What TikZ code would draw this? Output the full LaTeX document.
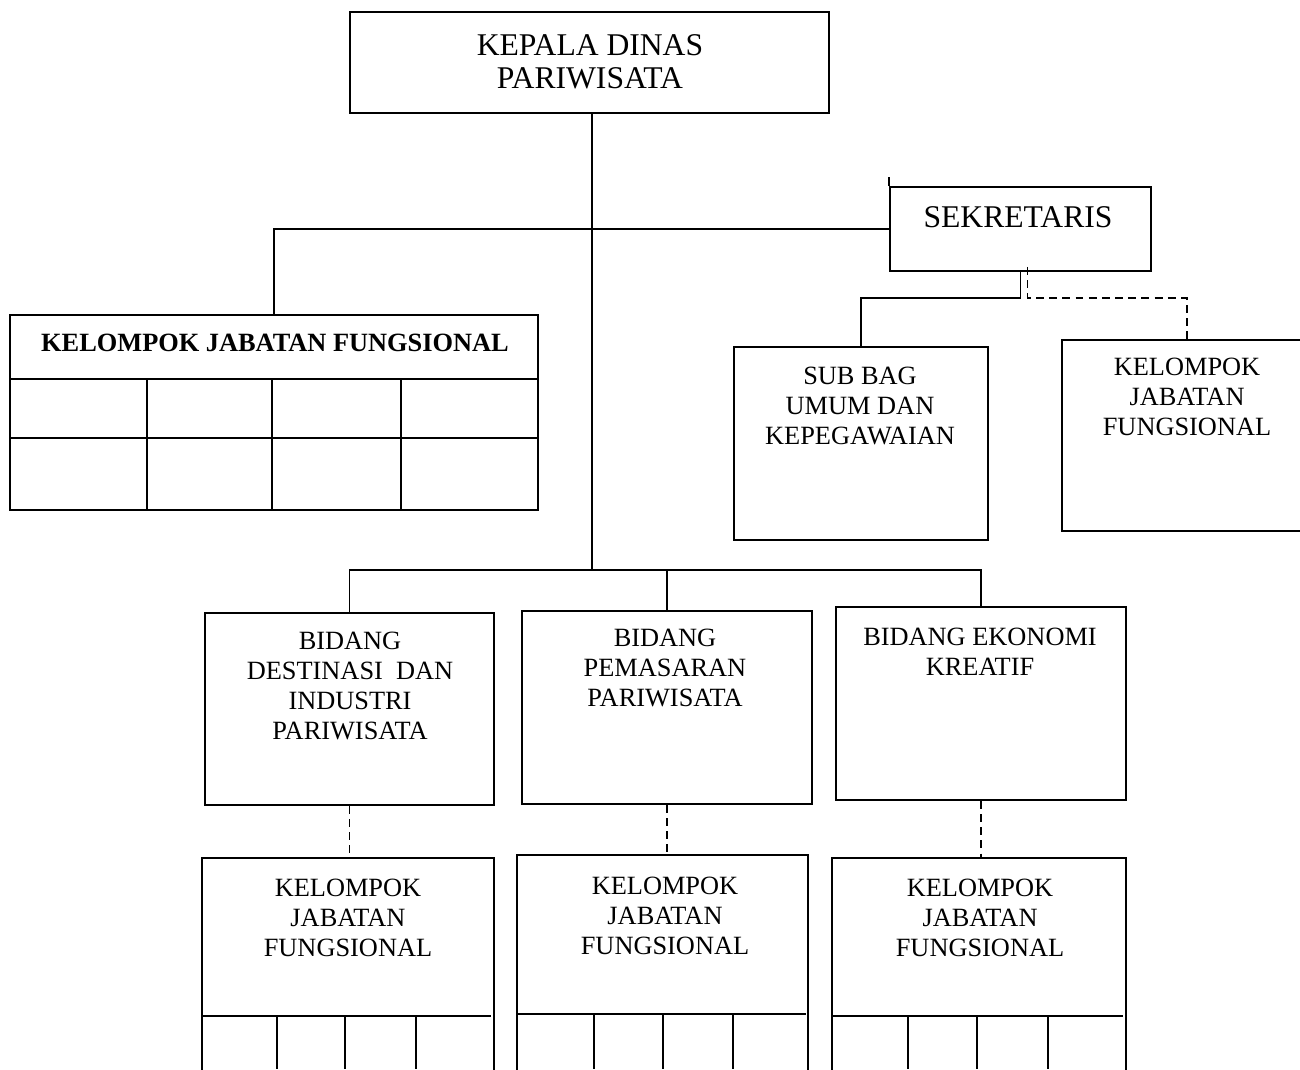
\documentclass[tikz,border=0pt]{standalone}
\usepackage{fontspec}
\setmainfont{Liberation Serif}
\usetikzlibrary{positioning,calc,fit}
\tikzset{>=latex,
  box/.style={draw,line width=1pt,inner sep=0pt},
  txt/.style={align=center,font=\fontsize{15}{17}\selectfont},
  bigtxt/.style={align=center,font=\fontsize{18}{18.7}\selectfont},
  conn/.style={line width=1pt},
  dconn/.style={line width=1pt,dash pattern=on 4.5pt off 3pt}}

\begin{document}
\begin{tikzpicture}[x=0.02cm,y=-0.02cm]
\useasboundingbox (0,0) rectangle (1300,1069);
\clip (0,0) rectangle (1300,1069);
% boxes
\node [box,fit={(350,12) (829,113)}] (kepala) {};
\node [box,fit={(890,187) (1151,271)}] (sek) {};
\node [box,fit={(10,315) (538,510)}] (kjf) {};
\node [box,fit={(734,347) (988,540)}] (subbag) {};
\node [box,fit={(1062,340) (1312,531)}] (kjfs) {};
\node [box,fit={(205,613) (494,805)}] (bid1) {};
\node [box,fit={(522,611) (812,804)}] (bid2) {};
\node [box,fit={(836,607) (1126,800)}] (bid3) {};
\node [box,fit={(202,858) (494,1100)}] (kjf1) {};
\node [box,fit={(517,855) (808,1100)}] (kjf2) {};
\node [box,fit={(832,858) (1126,1100)}] (kjf3) {};
% texts
\node [bigtxt] (tkepala) at (590,62) {KEPALA DINAS\\PARIWISATA};
\node [bigtxt] (tsek) at (1018,217) {SEKRETARIS};
\node [txt,font=\bfseries\fontsize{15}{17}\selectfont] (tkjf) at (275,343) {KELOMPOK JABATAN FUNGSIONAL};
\node [txt] (tsubbag) at (860,406) {SUB BAG\\UMUM DAN\\KEPEGAWAIAN};
\node [txt] (tkjfs) at (1187,397) {KELOMPOK\\JABATAN\\FUNGSIONAL};
\node [txt] (tbid1) at (350,686) {BIDANG\\DESTINASI\ \ DAN\\INDUSTRI\\PARIWISATA};
\node [txt] (tbid2) at (665,668) {BIDANG\\PEMASARAN\\PARIWISATA};
\node [txt] (tbid3) at (980,652) {BIDANG EKONOMI\\KREATIF};
\node [txt] (tkjf1) at (348,918) {KELOMPOK\\JABATAN\\FUNGSIONAL};
\node [txt] (tkjf2) at (665,916) {KELOMPOK\\JABATAN\\FUNGSIONAL};
\node [txt] (tkjf3) at (980,918) {KELOMPOK\\JABATAN\\FUNGSIONAL};
% table cells
\foreach \y in {379,438} \draw [conn] (10,\y) -- (538,\y);
\foreach \x in {147,272,401} \draw [conn] (\x,379) -- (\x,510);
\foreach \l/\r/\y/\xa/\xb/\xc in {202/491/1016/277/345/416,517/806/1014/594/663/733,832/1123/1016/908/977/1048}
{
  \draw [conn] (\l,\y) -- (\r,\y);
  \foreach \x in {\xa,\xb,\xc} \draw [conn] (\x,\y) -- (\x,1069);
}
% connectors
\coordinate (bus) at (592,570);
\draw [conn] (kepala.south -| bus) -- (bus);
\draw [conn] (kjf.north) |- (sek.west);
\draw [conn] (sek.north west) -- ++(0,-9);
\draw [conn] (sek.south) -- ++(0,26) -| (subbag.north);
\draw [dconn] ($(sek.south)+(7,-5)$) -- ++(0,31) -| (kjfs.north);
\draw [conn] (bid1.north) |- (bus) -| (bid3.north);
\draw [conn] (bid2.north) -- (bid2.north |- bus);
\draw [dconn] (bid1.south) -- (bid1.south |- kjf1.north);
\draw [dconn] (bid2.south) -- (bid2.south |- kjf2.north);
\draw [dconn] (bid3.south) -- (bid3.south |- kjf3.north);
\end{tikzpicture}
\end{document}
